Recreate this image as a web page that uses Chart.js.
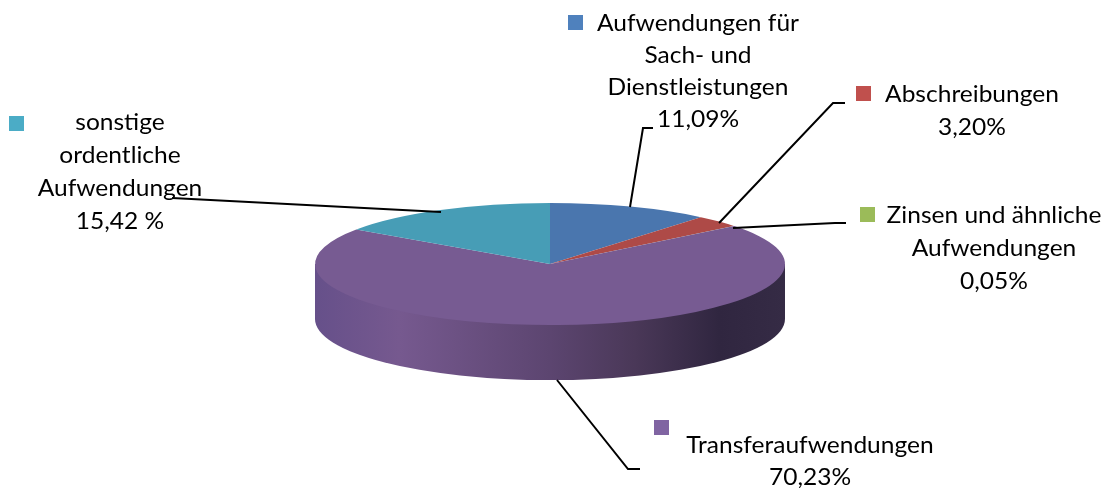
<!DOCTYPE html>
<html lang="de">
<head>
<meta charset="utf-8">
<title>Aufwendungen</title>
<script src="https://cdn.jsdelivr.net/npm/chart.js@4"></script>
<style>
    html, body { margin: 0; padding: 0; background: #fff; }
    canvas { display: block; }
</style>
</head>
<body>
<canvas id="pieChart" width="1107" height="488"></canvas>
<script>
// Daten
var categories = [
    ['Aufwendungen für', 'Sach- und', 'Dienstleistungen'],
    ['Abschreibungen'],
    ['Zinsen und ähnliche', 'Aufwendungen'],
    ['Transferaufwendungen'],
    ['sonstige', 'ordentliche', 'Aufwendungen']
];
var values = [11.09, 3.20, 0.05, 70.23, 15.42];
var valueLabels = ['11,09%', '3,20%', '0,05%', '70,23%', '15,42 %'];

// Farben
var faceColors = ['#4a76ae', '#ae4a47', '#93ae55', '#775b92', '#479db6'];
var legendColors = ['#4f81bd', '#c0504d', '#9bbb59', '#8064a2', '#4bacc6'];

// Position der Beschriftungen
var labelCenterX = [698, 972, 994, 810, 120];
var labelFirstY = [24, 95, 216, 446, 123];
var labelLineStep = [32, 33, 33, 32, 33];
var swatchPos = [[568, 15], [856, 86], [860, 207], [654, 420], [9, 116]];
var leaderLines = [
    [[630, 207], [643, 128], [653, 128]],
    [[719, 223], [833, 103], [845, 103]],
    [[733, 228], [835, 223], [846, 223]],
    [[557, 380], [628, 469], [640, 469]],
    [[172, 198], [441, 212]]
];

// Die Vorlage ist horizontal etwas gestreckt
var textStretch = 1.09;

// 3D Ansicht
var pieCenterX = 550;
var pieCenterY = 264;
var pieRadius = 235;
var tilt = 0.26;
var depth = 55;

var wallStops = [
    [0, '#66508a'], [0.18, '#76598f'], [0.5, '#5c4570'],
    [0.68, '#4a3858'], [0.86, '#302640'], [1, '#352b45']
];

var pie3d = {
    id: 'pie3d',
    beforeDatasetsDraw: function (chart) {
        var ctx = chart.ctx;
        var arcs = chart.getDatasetMeta(0).data;
        var rx = pieRadius;
        var ry = pieRadius * tilt;
        var wall = ctx.createLinearGradient(pieCenterX - rx, 0, pieCenterX + rx, 0);
        wallStops.forEach(function (s) { wall.addColorStop(s[0], s[1]); });

        // sichtbare Seitenwand nur in der vorderen Hälfte
        arcs.forEach(function (arc) {
            var start = Math.max(arc.startAngle, 0);
            var end = Math.min(arc.endAngle, Math.PI);
            if (end <= start) return;
            ctx.beginPath();
            ctx.ellipse(pieCenterX, pieCenterY + depth, rx, ry, 0, start, end);
            ctx.lineTo(pieCenterX - rx, pieCenterY);
            ctx.lineTo(pieCenterX + rx, pieCenterY);
            ctx.closePath();
            ctx.fillStyle = wall;
            ctx.fill();
        });

        var c = arcs[0];
        ctx.save();
        ctx.translate(pieCenterX, pieCenterY);
        ctx.scale(1, tilt);
        ctx.translate(-c.x, -c.y);
    },
    afterDatasetsDraw: function (chart) {
        var ctx = chart.ctx;
        ctx.restore();

        // Führungslinien
        ctx.strokeStyle = '#000';
        ctx.lineWidth = 2;
        leaderLines.forEach(function (line) {
            ctx.beginPath();
            line.forEach(function (p, i) {
                if (i === 0) ctx.moveTo(p[0], p[1]);
                else ctx.lineTo(p[0], p[1]);
            });
            ctx.stroke();
        });

        // Beschriftungen
        ctx.font = '22.5px Lato';
        ctx.fillStyle = '#000';
        ctx.textAlign = 'center';
        ctx.textBaseline = 'middle';
        categories.forEach(function (lines, i) {
            var all = lines.concat(valueLabels[i]);
            all.forEach(function (text, n) {
                ctx.save();
                ctx.translate(labelCenterX[i], labelFirstY[i] + n * labelLineStep[i]);
                ctx.scale(textStretch, 1);
                ctx.fillText(text, 0, 0);
                ctx.restore();
            });
        });

        swatchPos.forEach(function (p, i) {
            ctx.fillStyle = legendColors[i];
            ctx.fillRect(p[0], p[1], 15, 15);
        });
    }
};

new Chart(document.getElementById('pieChart').getContext('2d'), {
    type: 'pie',
    data: {
        labels: categories.map(function (c) { return c.join(' '); }),
        datasets: [{
            data: values,
            backgroundColor: faceColors,
            borderWidth: 0,
            radius: pieRadius,
            clip: false
        }]
    },
    options: {
        responsive: false,
        animation: false,
        plugins: {
            legend: { display: false },
            tooltip: { enabled: false }
        }
    },
    plugins: [pie3d]
});
</script>
</body>
</html>
